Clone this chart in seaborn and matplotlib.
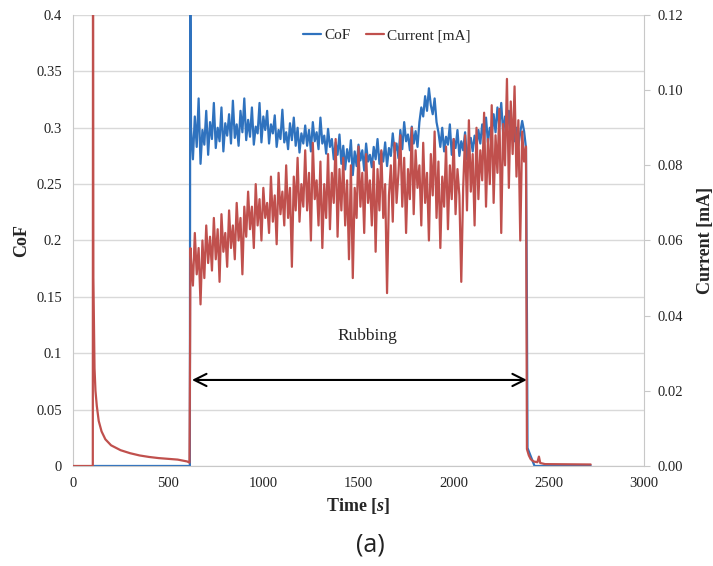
import numpy as np
import pandas as pd
import matplotlib
matplotlib.use("Agg")
import matplotlib.pyplot as plt
import seaborn as sns

# %% data (time in s, CoF, current in mA)
blue_col = "#2F72BE"
red_col = "#C0504D"

# rubbing phase sampled every 10 s
rub_time = np.arange(620, 2390, 10)

cof_rub = [
    0.300, 0.272, 0.310, 0.283, 0.326, 0.268, 0.298, 0.285, 0.315, 0.276,
    0.305, 0.290, 0.322, 0.282, 0.300, 0.288, 0.318, 0.279, 0.304, 0.293,
    0.312, 0.286, 0.324, 0.291, 0.303, 0.284, 0.315, 0.296, 0.326, 0.289,
    0.307, 0.292, 0.318, 0.285, 0.301, 0.295, 0.322, 0.287, 0.310, 0.298,
    0.315, 0.286, 0.303, 0.295, 0.311, 0.283, 0.298, 0.290, 0.316, 0.287,
    0.296, 0.281, 0.304, 0.289, 0.309, 0.284, 0.300, 0.278, 0.295, 0.286,
    0.302, 0.284, 0.298, 0.279, 0.305, 0.288, 0.296, 0.281, 0.309, 0.286,
    0.293, 0.277, 0.299, 0.283, 0.290, 0.272, 0.287, 0.276, 0.294, 0.268,
    0.284, 0.263, 0.281, 0.270, 0.289, 0.258, 0.279, 0.266, 0.285, 0.271,
    0.280, 0.262, 0.286, 0.270, 0.276, 0.265, 0.283, 0.272, 0.290, 0.268,
    0.279, 0.270, 0.287, 0.266, 0.282, 0.275, 0.295, 0.278, 0.286, 0.273,
    0.298, 0.281, 0.305, 0.288, 0.294, 0.280, 0.301, 0.286, 0.297, 0.283,
    0.305, 0.318, 0.310, 0.328, 0.315, 0.335, 0.320, 0.312, 0.326, 0.305,
    0.296, 0.283, 0.300, 0.279, 0.292, 0.285, 0.303, 0.276, 0.290, 0.282,
    0.298, 0.275, 0.288, 0.280, 0.296, 0.272, 0.285, 0.291, 0.279, 0.293,
    0.283, 0.298, 0.286, 0.303, 0.290, 0.309, 0.287, 0.300, 0.293, 0.312,
    0.296, 0.318, 0.301, 0.322, 0.295, 0.310, 0.299, 0.315, 0.292, 0.305,
    0.288, 0.300, 0.284, 0.296, 0.306, 0.297, 0.282,
]

cur_rub = [
    0.055, 0.048, 0.062, 0.051, 0.058, 0.043, 0.060, 0.050, 0.064, 0.054,
    0.061, 0.052, 0.066, 0.055, 0.063, 0.049, 0.067, 0.057, 0.062, 0.053,
    0.068, 0.058, 0.064, 0.055, 0.070, 0.060, 0.066, 0.051, 0.069, 0.061,
    0.073, 0.063, 0.069, 0.058, 0.075, 0.064, 0.071, 0.060, 0.074, 0.066,
    0.070, 0.062, 0.077, 0.065, 0.072, 0.059, 0.078, 0.067, 0.073, 0.064,
    0.080, 0.066, 0.074, 0.053, 0.077, 0.068, 0.082, 0.065, 0.075, 0.069,
    0.084, 0.068, 0.078, 0.060, 0.086, 0.071, 0.076, 0.064, 0.081, 0.058,
    0.075, 0.066, 0.083, 0.063, 0.078, 0.070, 0.087, 0.061, 0.079, 0.068,
    0.082, 0.064, 0.076, 0.055, 0.080, 0.050, 0.074, 0.066, 0.085, 0.069,
    0.078, 0.062, 0.083, 0.070, 0.076, 0.064, 0.081, 0.057, 0.079, 0.068,
    0.084, 0.066, 0.075, 0.046, 0.072, 0.080, 0.065, 0.086, 0.070, 0.078,
    0.088, 0.069, 0.082, 0.062, 0.079, 0.071, 0.090, 0.067, 0.084, 0.074,
    0.080, 0.064, 0.086, 0.070, 0.078, 0.060, 0.083, 0.072, 0.089, 0.066,
    0.081, 0.058, 0.077, 0.069, 0.085, 0.063, 0.080, 0.071, 0.087, 0.067,
    0.079, 0.072, 0.049, 0.074, 0.088, 0.068, 0.092, 0.073, 0.083, 0.064,
    0.090, 0.071, 0.084, 0.076, 0.094, 0.069, 0.087, 0.075, 0.096, 0.070,
    0.088, 0.078, 0.095, 0.062, 0.091, 0.080, 0.103, 0.074, 0.097, 0.083,
    0.101, 0.077, 0.092, 0.060, 0.089, 0.081, 0.085,
]

# before / after rubbing
cof_pre_time = [105, 614, 616]
cof_pre = [0.0, 0.0, 0.45]
cof_post_time = [2385, 2388, 2425, 2720]
cof_post = [0.135, 0.016, 0.0, 0.0]

cur_pre_time = [0, 104, 105, 107, 110, 113, 118, 125, 135, 150, 170, 200, 250,
                300, 350, 400, 450, 500, 550, 600, 612, 615, 617]
cur_pre = [0.0, 0.0, 0.14, 0.05, 0.038, 0.026, 0.020, 0.016, 0.012, 0.0092,
           0.0071, 0.0055, 0.0042, 0.0034, 0.0028, 0.0024, 0.0021, 0.0019,
           0.0017, 0.0012, 0.0009, 0.030, 0.058]
cur_post_time = [2385, 2395, 2405, 2420, 2440, 2448, 2455, 2480, 2720]
cur_post = [0.0045, 0.0028, 0.0018, 0.0012, 0.0010, 0.0025, 0.0008, 0.0005, 0.0004]

cof_df = pd.DataFrame({
    "time": list(cof_pre_time) + list(rub_time) + cof_post_time,
    "CoF": cof_pre + cof_rub + cof_post,
})
cur_df = pd.DataFrame({
    "time": list(cur_pre_time) + list(rub_time) + cur_post_time,
    "current": cur_pre + cur_rub + cur_post,
})

# %% plot
sns.set_style("white")
plt.rcParams["font.family"] = ["Liberation Serif", "DejaVu Serif"]
plt.rcParams["mathtext.fontset"] = "custom"
plt.rcParams["mathtext.it"] = "Liberation Serif:italic:bold"
plt.rcParams["mathtext.rm"] = "Liberation Serif:bold"

fig = plt.figure(figsize=(7.13, 5.66), dpi=100)
ax = fig.add_axes([0.1024, 0.1767, 0.8008, 0.7968])
ax2 = ax.twinx()

sns.lineplot(data=cof_df, x="time", y="CoF", ax=ax, color=blue_col,
             linewidth=1.6, estimator=None, sort=False, label="CoF", legend=False)
sns.lineplot(data=cur_df, x="time", y="current", ax=ax2, color=red_col,
             linewidth=1.6, estimator=None, sort=False, label="Current [mA]", legend=False)

ax.set_xlim(0, 3000)
ax.set_ylim(0, 0.4)
ax2.set_ylim(0, 0.12)
ax.set_xticks(np.arange(0, 3001, 500))
ax.set_yticks(np.arange(0, 0.401, 0.05))
ax.set_yticklabels(["0", "0.05", "0.1", "0.15", "0.2", "0.25", "0.3", "0.35", "0.4"])
ax2.set_yticks(np.arange(0, 0.1201, 0.02))
ax2.set_yticklabels([f"{v:.2f}" for v in np.arange(0, 0.1201, 0.02)])

ax.grid(axis="y", color="#D9D9D9", linewidth=1)
ax.set_axisbelow(True)
for a in (ax, ax2):
    a.spines["top"].set_visible(False)
    for side in ("left", "right", "bottom"):
        a.spines[side].set_color("#C8C8C8")
ax.spines["right"].set_visible(False)
ax2.spines["left"].set_visible(False)
ax2.spines["bottom"].set_visible(False)

ax.tick_params(axis="both", length=0, labelsize=10.5, colors="#222222", pad=8)
ax2.tick_params(axis="y", length=4, color="#C8C8C8", labelsize=10.5, labelcolor="#222222", pad=6)

ax.set_xlabel("Time [$\\mathit{s}$]", fontsize=13, fontweight="bold", labelpad=4)
ax.set_ylabel("CoF", fontsize=13, fontweight="bold", labelpad=4)
ax2.set_ylabel("Current [mA]", fontsize=13, fontweight="bold", labelpad=10)

# rubbing arrow
ax.annotate("", xy=(625, 0.0763), xytext=(2385, 0.0763),
            arrowprops=dict(arrowstyle="<->", color="black", lw=1.5,
                            mutation_scale=22, shrinkA=0, shrinkB=0))
ax.text(1545, 0.115, "Rubbing", ha="center", va="center", fontsize=12.5)

h1, l1 = ax.get_legend_handles_labels()
h2, l2 = ax2.get_legend_handles_labels()
ax2.legend(h1 + h2, l1 + l2, loc="upper center", bbox_to_anchor=(0.55, 1.0),
           ncol=2, frameon=False, fontsize=11, handlelength=1.2,
           handletextpad=0.2, columnspacing=1.0)

fig.text(0.519, 0.037, "(a)", ha="center", va="center", fontsize=18,
         family=["Open Sans", "DejaVu Sans"], color="#222222")

fig.savefig("out.png", dpi=100)
